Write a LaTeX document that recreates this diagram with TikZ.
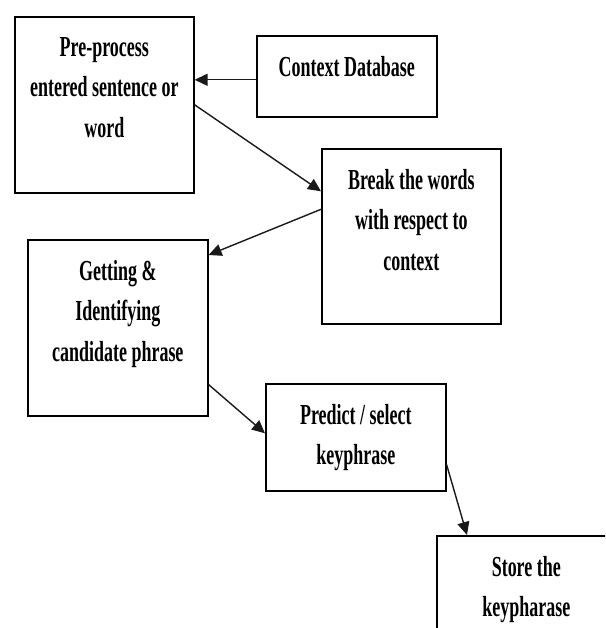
\documentclass[tikz,border=0pt]{standalone}
\usepackage{fontspec}
\setmainfont[FakeStretch=0.62]{Liberation Serif}
\usetikzlibrary{arrows.meta,positioning}

\begin{document}
\begin{tikzpicture}[
    x=1pt, y=-1pt,
    box/.style={draw, rectangle, line width=1.6pt, inner sep=0pt,
                minimum width=179pt, anchor=north west},
    txt/.style={anchor=north, align=center, inner sep=0pt, yshift=-21pt,
                font=\bfseries\fontsize{29}{40.5}\selectfont},
    arr/.style={-{Triangle[length=13pt,width=12pt]}, line width=1.4pt, draw=black!90}
]
    \useasboundingbox (0,0) rectangle (605,628);
    \clip (0,0) rectangle (605,628);

    % Process boxes
    \node[box, minimum height=176pt, label={[txt]north:{Pre-process\\entered sentence or\\word}}] (pre) at (14,16) {};
    \node[box, minimum width=180pt, minimum height=81pt, label={[txt]north:{Context Database}}] (ctx) at (256,35) {};
    \node[box, minimum height=175pt, label={[txt]north:{Break the words\\with respect to\\context}}] (brk) at (321,148) {};
    \node[box, minimum width=180pt, minimum height=176pt, label={[txt]north:{Getting \&\\Identifying\\candidate phrase}}] (get) at (27,239) {};
    \node[box, minimum width=180pt, minimum height=107pt, label={[txt]north:{Predict / select\\keyphrase}}] (pred) at (265,383) {};
    \node[box, minimum height=120pt, label={[txt]north:{Store the\\keypharase}}] (store) at (436,535) {};

    % Arrows
    \coordinate (c1) at ([yshift=-3.5pt]ctx.west);
    \draw[arr] (c1) -- (c1 -| pre.east);
    \draw[arr] (pre.east) -- ([yshift=45pt]brk.west);
    \draw[arr] ([yshift=27pt]brk.west) -- ([yshift=-16pt]get.north east);
    \draw[arr] ([yshift=32pt]get.south east) -- ([yshift=4pt]pred.west);
    \draw[arr] ([yshift=27pt]pred.south east) -- ([xshift=31pt]store.north west);
\end{tikzpicture}
\end{document}
